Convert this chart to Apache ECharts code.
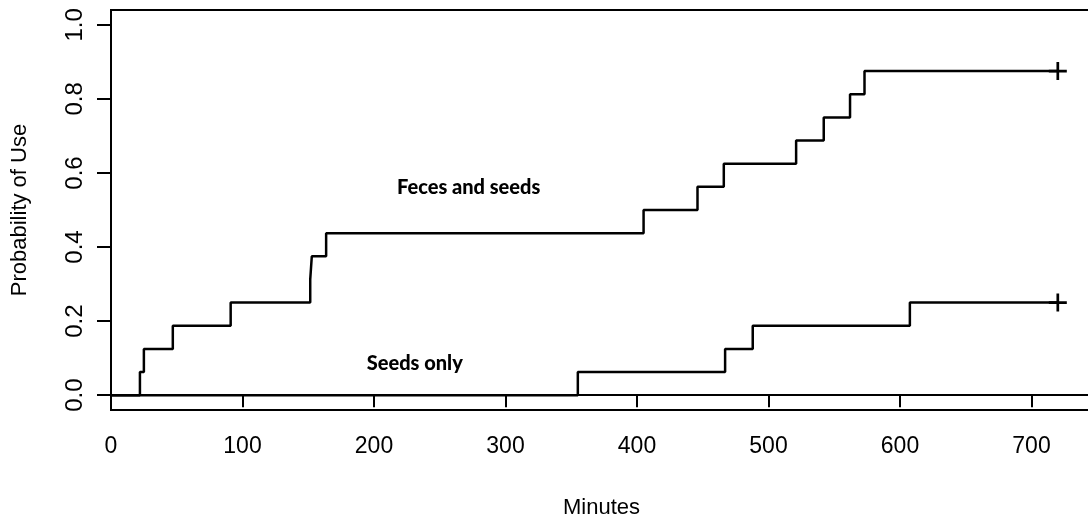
<!DOCTYPE html>
<html>
<head>
<meta charset="utf-8">
<script src="https://cdn.jsdelivr.net/npm/echarts@6/dist/echarts.min.js"></script>
<style>
  html, body { margin: 0; padding: 0; background: #fff; }
  #chart { width: 1088px; height: 519px; }
</style>
</head>
<body>
<div id="chart"></div>
<script>
// Kaplan-Meier style curves, times in minutes, probability = k/16
var fecesTimes = [0, 22, 25, 47, 91, 151.5, 152.7, 163.6, 405, 446, 466, 521, 542, 562, 573, 720];
var fecesProb = [0, 0.0625, 0.125, 0.1875, 0.25, 0.3125, 0.375, 0.4375, 0.5, 0.5625, 0.625, 0.6875, 0.75, 0.8125, 0.875, 0.875];
var seedsTimes = [0, 355, 467, 488, 607.5, 720];
var seedsProb = [0, 0.0625, 0.125, 0.1875, 0.25, 0.25];

var xTicks = [0, 100, 200, 300, 400, 500, 600, 700];
var yTicks = [0, 0.2, 0.4, 0.6, 0.8, 1.0];

var labelNames = ['Feces and seeds', 'Seeds only'];
var labelPos = [[272, 0.56], [231, 0.086]];

function pairs(xs, ys) {
  return xs.map(function (x, i) { return [x, ys[i]]; });
}

var axisFont = "'Liberation Sans', Arial, sans-serif";
var plusPath = 'path://M-1.5,-10 h3 v20 h-3 z M-10,-1.5 h20 v3 h-20 z';

var myChart = echarts.init(document.getElementById('chart'));
var option = {
  animation: false,
  backgroundColor: '#fff',
  grid: {
    left: 111,
    top: 10,
    right: -4,
    bottom: 109,
    containLabel: false,
    outerBoundsMode: 'none',
    show: true,
    borderColor: '#000',
    borderWidth: 2
  },
  xAxis: {
    type: 'value',
    min: 0,
    max: 746,
    name: 'Minutes',
    nameLocation: 'middle',
    nameGap: 87,
    nameTextStyle: { color: '#000', fontSize: 22, fontFamily: axisFont },
    axisLine: { show: true, lineStyle: { color: '#000', width: 2 } },
    axisTick: { show: true, length: 12, customValues: xTicks, lineStyle: { color: '#000', width: 2 } },
    axisLabel: {
      customValues: xTicks,
      margin: 25,
      color: '#000',
      fontSize: 23,
      fontFamily: axisFont
    },
    splitLine: { show: false }
  },
  yAxis: {
    type: 'value',
    min: -0.04,
    max: 1.04,
    name: 'Probability of Use',
    nameLocation: 'middle',
    nameRotate: 90,
    nameGap: 80,
    nameTextStyle: { color: '#000', fontSize: 22, fontFamily: axisFont },
    axisLine: { show: true, lineStyle: { color: '#000', width: 2 } },
    axisTick: { show: true, length: 14, customValues: yTicks, lineStyle: { color: '#000', width: 2 } },
    axisLabel: {
      customValues: yTicks,
      rotate: 90,
      margin: 24,
      color: '#000',
      fontSize: 24,
      fontFamily: axisFont,
      formatter: function (v) { return v.toFixed(1); }
    },
    splitLine: { show: false }
  },
  series: [
    {
      name: 'Feces and seeds',
      type: 'line',
      step: 'end',
      showSymbol: false,
      lineStyle: { color: '#000', width: 2.5 },
      data: pairs(fecesTimes, fecesProb)
    },
    {
      name: 'Seeds only',
      type: 'line',
      step: 'end',
      showSymbol: false,
      lineStyle: { color: '#000', width: 2.5 },
      data: pairs(seedsTimes, seedsProb)
    },
    {
      // censoring marks at the end of follow-up
      type: 'scatter',
      symbol: plusPath,
      symbolSize: 18,
      itemStyle: { color: '#000', opacity: 1 },
      data: [
        [fecesTimes[fecesTimes.length - 1], fecesProb[fecesProb.length - 1]],
        [seedsTimes[seedsTimes.length - 1], seedsProb[seedsProb.length - 1]]
      ]
    },
    {
      type: 'scatter',
      symbolSize: 1,
      itemStyle: { color: 'rgba(0,0,0,0)', opacity: 1 },
      label: {
        show: true,
        position: 'inside',
        formatter: function (p) { return labelNames[p.dataIndex]; },
        color: '#000',
        opacity: 1,
        textBorderWidth: 0,
        fontSize: 20,
        fontWeight: 900,
        fontFamily: "Lato, 'Open Sans', sans-serif"
      },
      data: labelPos
    }
  ]
};
myChart.setOption(option);
</script>
</body>
</html>
